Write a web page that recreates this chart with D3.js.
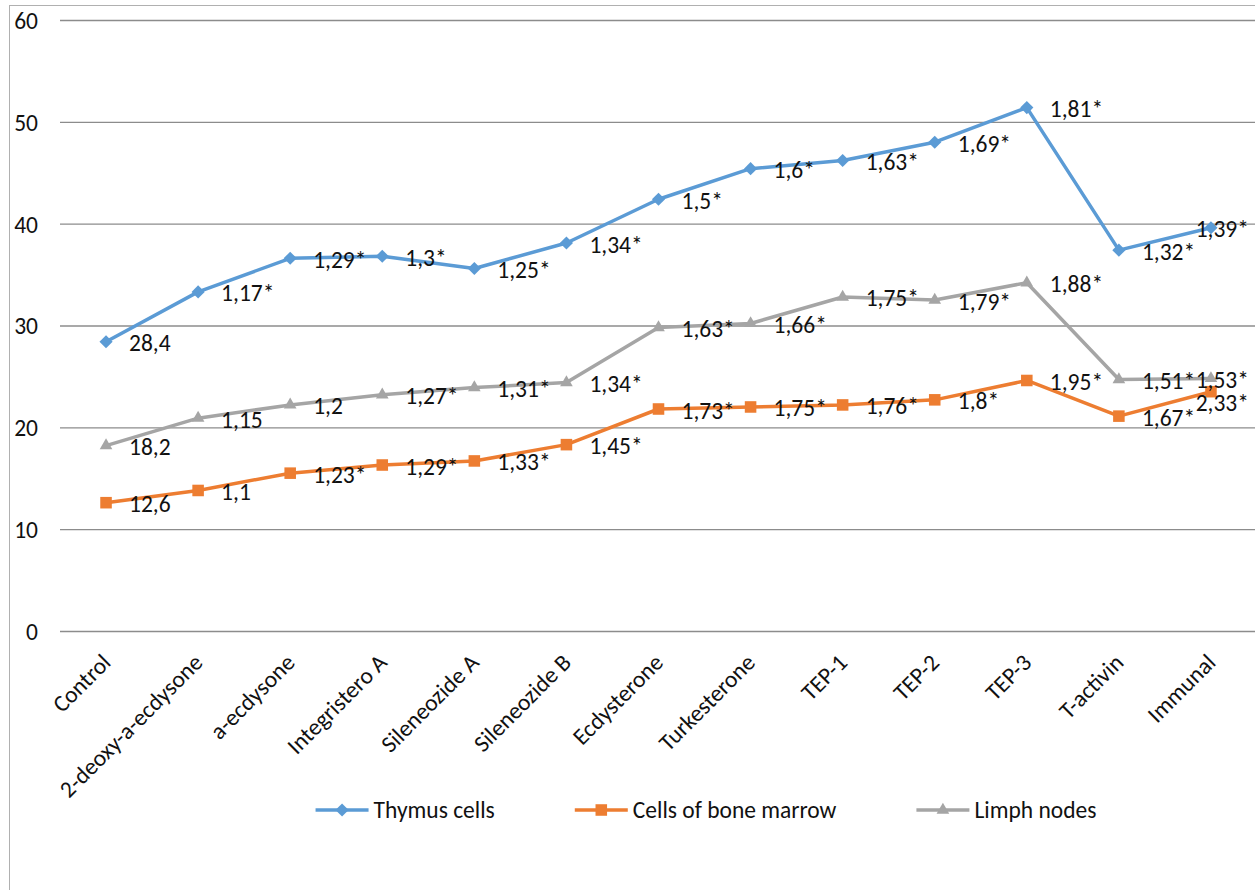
<!DOCTYPE html>
<html>
<head>
<meta charset="utf-8">
<script src="https://cdn.jsdelivr.net/npm/d3@7"></script>
<style>
  body { margin: 0; background: #fff; }
  svg { font-family: Carlito, Calibri, Lato, sans-serif; }
</style>
</head>
<body>
<svg id="chart"></svg>
<script>
const categories = ["Control", "2-deoxy-a-ecdysone", "a-ecdysone", "Integristero A", "Sileneozide A", "Sileneozide B", "Ecdysterone", "Turkesterone", "TEP-1", "TEP-2", "TEP-3", "T-activin", "Immunal"]
const thymusValues = [28.4, 33.3, 36.6, 36.8, 35.6, 38.1, 42.4, 45.4, 46.2, 48.0, 51.4, 37.4, 39.6]
const thymusLabels = ["28,4", "1,17*", "1,29*", "1,3*", "1,25*", "1,34*", "1,5*", "1,6*", "1,63*", "1,69*", "1,81*", "1,32*", "1,39*"]
const marrowValues = [12.6, 13.8, 15.5, 16.3, 16.7, 18.3, 21.8, 22.0, 22.2, 22.7, 24.6, 21.1, 23.5]
const marrowLabels = ["12,6", "1,1", "1,23*", "1,29*", "1,33*", "1,45*", "1,73*", "1,75*", "1,76*", "1,8*", "1,95*", "1,67*", "2,33*"]
const lymphValues = [18.2, 20.9, 22.2, 23.2, 23.9, 24.4, 29.8, 30.2, 32.8, 32.5, 34.2, 24.7, 24.8]
const lymphLabels = ["18,2", "1,15", "1,2", "1,27*", "1,31*", "1,34*", "1,63*", "1,66*", "1,75*", "1,79*", "1,88*", "1,51*", "1,53*"]
const yTicks = [0, 10, 20, 30, 40, 50, 60]

const series = [
  { name: "Thymus cells", values: thymusValues, labels: thymusLabels, color: "#5B9BD5", symbol: d3.symbolDiamond2, size: 110 },
  { name: "Cells of bone marrow", values: marrowValues, labels: marrowLabels, color: "#ED7D31", symbol: d3.symbolSquare2, size: 170 },
  { name: "Limph nodes", values: lymphValues, labels: lymphLabels, color: "#A5A5A5", symbol: d3.symbolTriangle2, size: 115 }
]

const width = 1255, height = 890
const fontSize = 23.5
const svg = d3.select("#chart").attr("width", width).attr("height", height)

// chart frame (runs off the right and bottom edge)
svg.append("rect")
  .attr("x", 9.5).attr("y", 5.5)
  .attr("width", 1400).attr("height", 1000)
  .attr("fill", "#fff").attr("stroke", "#b0b0b0").attr("stroke-width", 1)

const x = d3.scalePoint().domain(categories).range([60, 1257]).padding(0.5)
const y = d3.scaleLinear().domain([0, 60]).range([631, 20])

// gridlines
svg.append("g")
  .attr("transform", "translate(60,0)")
  .call(d3.axisLeft(y).tickValues(yTicks).tickSize(-1300).tickFormat(""))
  .call(g => g.select(".domain").remove())
  .call(g => g.selectAll("line").attr("stroke", "#8c8c8c").attr("stroke-width", 1.4))

// y tick labels
svg.append("g")
  .attr("transform", "translate(38,0)")
  .call(d3.axisLeft(y).tickValues(yTicks).tickSize(0).tickPadding(0))
  .call(g => g.select(".domain").remove())
  .call(g => g.selectAll("text")
    .attr("font-family", "Carlito, Calibri, Lato, sans-serif")
    .attr("font-size", fontSize).attr("fill", "#111").attr("dy", "0.36em"))

// category labels
svg.append("g")
  .selectAll("text")
  .data(categories)
  .enter()
  .append("text")
  .attr("transform", d => `translate(${x(d) + 6},664) rotate(-45)`)
  .attr("text-anchor", "end")
  .attr("font-size", fontSize)
  .attr("fill", "#111")
  .text(d => d)

// lines and markers
const line = d3.line().x((d, i) => x(categories[i])).y(d => y(d))

series.forEach(s => {
  svg.append("path")
    .attr("d", line(s.values))
    .attr("fill", "none")
    .attr("stroke", s.color)
    .attr("stroke-width", 3.5)
    .attr("stroke-linejoin", "round")

  svg.append("g")
    .selectAll("path")
    .data(s.values)
    .enter()
    .append("path")
    .attr("transform", (d, i) => `translate(${x(categories[i])},${y(d)})`)
    .attr("d", d3.symbol(s.symbol, s.size))
    .attr("fill", s.color)
})

// data labels, placed right of each point; pushed inside the chart and apart when they collide
const labelGroup = svg.append("g").attr("font-size", fontSize).attr("fill", "#111")
const rightLimit = 1249
categories.forEach((c, i) => {
  const items = series.map(s => ({ text: s.labels[i], py: y(s.values[i]) }))
    .sort((a, b) => a.py - b.py)
  let lastY = -Infinity
  items.forEach(it => {
    let ly = it.py + 9.5
    if (ly - lastY < 18) ly = lastY + 23
    lastY = ly
    const t = labelGroup.append("text").attr("y", ly).text(it.text)
    const w = t.node().getComputedTextLength()
    t.attr("x", Math.min(x(c) + 23, rightLimit - w))
  })
})

// legend
const legend = svg.append("g").attr("font-size", fontSize).attr("fill", "#111")
const items = series.map(s => {
  const g = legend.append("g")
  g.append("line").attr("x1", 0).attr("x2", 53).attr("stroke", s.color).attr("stroke-width", 3.5)
  g.append("path").attr("transform", "translate(26.5,0)").attr("d", d3.symbol(s.symbol, s.size)).attr("fill", s.color)
  const t = g.append("text").attr("x", 58).attr("dy", "0.35em").text(s.name)
  return { g, w: 58 + t.node().getComputedTextLength() }
})
const gap = 80
const total = d3.sum(items, d => d.w) + gap * (items.length - 1)
let lx = 706 - total / 2
items.forEach(it => {
  it.g.attr("transform", `translate(${lx},810)`)
  lx += it.w + gap
})
</script>
</body>
</html>
